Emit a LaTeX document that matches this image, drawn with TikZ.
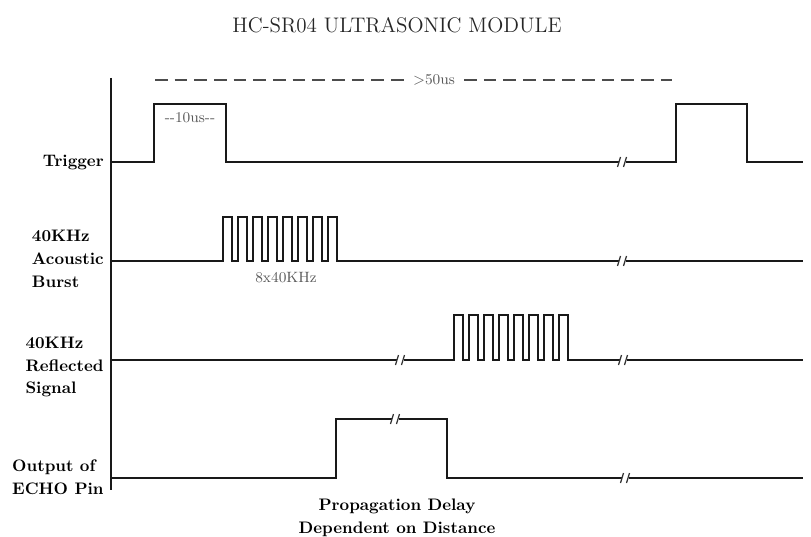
\documentclass[tikz,border=0pt]{standalone}
\usepackage{tikz}

% small break mark on a signal line
\newcommand{\brkmark}[2]{%
  \fill[white] (#1-3.5,#2-6) rectangle (#1+3.5,#2+6);
  \draw[black!80, line width=0.7pt] (#1-4.5,#2+5) -- (#1-1.5,#2-5);
  \draw[black!80, line width=0.7pt] (#1+1.5,#2+5) -- (#1+4.5,#2-5);}

\begin{document}
\begin{tikzpicture}[x=0.02cm, y=-0.02cm,
    sig/.style={black!90, line width=1.3pt, line join=miter},
    lbl/.style={font=\fontsize{9.5}{13}\selectfont\bfseries, align=left, inner sep=0pt, text=black},
    note/.style={font=\fontsize{8.5}{10}\selectfont, text=black!65, inner sep=1pt}]
    \useasboundingbox (0,0) rectangle (811,537);

    % 1. Title and the >50us span
    \node[font=\fontsize{12}{14}\selectfont, text=black!85] (title) at (397,25) {HC-SR04 ULTRASONIC MODULE};
    \node[note, inner sep=5pt] (span) at (434,80) {\textgreater50us};
    \coordinate (spanL) at (155,80);
    \coordinate (spanR) at (672,80);
    \draw[black!70, line width=1pt, dash pattern=on 7.2pt off 4pt] (spanL) -- (span.west);
    \draw[black!70, line width=1pt, dash pattern=on 7.2pt off 4pt] (span.east) -- (spanR);

    % 2. Vertical axis
    \draw[black!90, line width=1.3pt] (111,78) -- (111,490);

    % 3. Trigger
    \node[lbl, anchor=east] (trig) at (104,162) {Trigger};
    \draw[sig] (111,162) -- (154,162) -- (154,104) -- (226,104) -- (226,162) -- (676,162)
        -- (676,104) -- (747,104) -- (747,162) -- (803,162);
    \brkmark{622}{162}
    \node[note] (tenus) at (190,118) {-{}-10us-{}-};

    % 4. 40KHz acoustic burst
    \node[lbl, anchor=east] (burst) at (104,259) {40KHz\\Acoustic\\Burst};
    \draw[sig] (111,261) -- (223,261)
        foreach \k in {1,...,8} { -- ++(0,-44) -- ++(9,0) -- ++(0,44) -- ++(6,0) }
        -- (803,261);
    \brkmark{622}{261}
    \node[note] (cycles) at (286,278) {8x40KHz};

    % 5. 40KHz reflected signal
    \node[lbl, anchor=east] (refl) at (104,367) {40KHz\\Reflected\\Signal};
    \draw[sig] (111,360) -- (454,360)
        foreach \k in {1,...,8} { -- ++(0,-45) -- ++(9,0) -- ++(0,45) -- ++(6,0) }
        -- (803,360);
    \brkmark{400}{360}
    \brkmark{623}{360}

    % 6. Output of echo pin
    \node[lbl, align=center] (delay) at (397,518) {Propagation Delay\\Dependent on Distance};
    \node[lbl, anchor=east] (echo) at (104,477) {Output of\\ECHO Pin};
    \draw[sig] (111,478) -- (336,478) -- (336,419) -- (447,419) -- (447,478) -- (803,478);
    \brkmark{395}{419}
    \brkmark{625}{478}

\end{tikzpicture}
\end{document}
